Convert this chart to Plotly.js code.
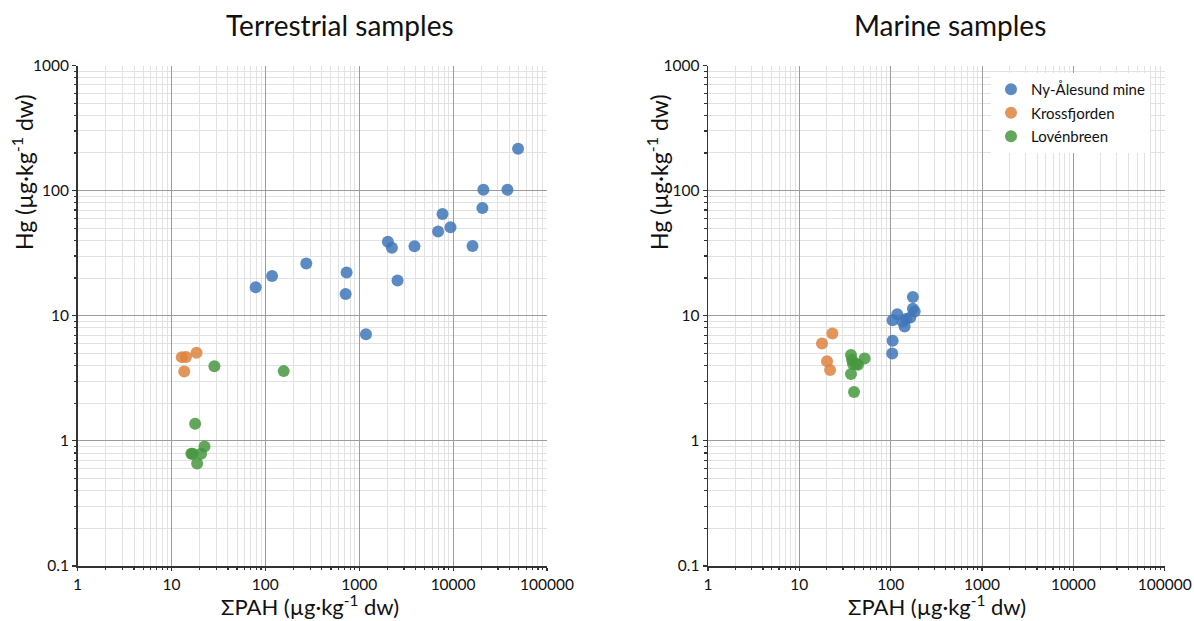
<!DOCTYPE html>
<html>
<head>
<meta charset="utf-8">
<script src="https://cdn.plot.ly/plotly-3.0.1.min.js"></script>
<style>html,body{margin:0;padding:0;background:#fff;}#chart{width:1194px;height:621px;}</style>
</head>
<body>
<div id="chart"></div>
<script>
// ---- Data ----
const seriesNames = ["Ny-Ålesund mine", "Krossfjorden", "Lovénbreen"];

// Terrestrial samples
const terrNyX = [79, 118, 273, 734, 717, 1180, 2020, 2230, 2560, 3880, 6920, 7710, 9380, 16100, 20500, 21000, 37900, 49200];
const terrNyY = [16.9, 20.8, 26.2, 22.2, 14.9, 7.1, 39.1, 35.0, 19.1, 35.9, 47.2, 65, 50.9, 36.1, 72.6, 101.6, 101.6, 216];
const terrKrX = [12.9, 14.3, 18.5, 13.7];
const terrKrY = [4.67, 4.69, 5.06, 3.59];
const terrLoX = [28.7, 157, 17.9, 22.5, 16.3, 16.8, 20.7, 18.8];
const terrLoY = [3.95, 3.61, 1.37, 0.90, 0.79, 0.79, 0.79, 0.66];

// Marine samples
const marNyX = [175, 175, 183, 118, 105, 135, 142, 164, 147, 105, 104];
const marNyY = [14.1, 11.4, 10.8, 10.3, 9.2, 9.0, 8.2, 9.7, 9.4, 6.3, 5.0];
const marKrX = [23.0, 17.7, 20.1, 21.7];
const marKrY = [7.2, 6.0, 4.33, 3.69];
const marLoX = [36.8, 37.8, 38.7, 43.9, 51.8, 36.8, 39.7, 41.8];
const marLoY = [4.86, 4.44, 4.12, 4.05, 4.56, 3.43, 2.46, 4.12];

// Tick labels
const xTickVals = [1, 10, 100, 1000, 10000, 100000];
const xTickText = ["1", "10", "100", "1000", "10000", "100000"];
const yTickVals = [0.1, 1, 10, 100, 1000];
const yTickText = ["0.1", "1", "10", "100", "1000"];

const panelTitles = ["Terrestrial samples", "Marine samples"];
const xTitle = "ΣPAH (µg·kg<sup>-1</sup> dw)";
const yTitle = "Hg (µg·kg<sup>-1</sup> dw)";

// ---- Styles ----
const colors = ["#3f77b9", "#dd843f", "#46983f"];
const FONT = "Lato, 'Open Sans', sans-serif";

function minorVals(lo, hi) {
  const v = [];
  for (let d = lo; d < hi; d++) for (let k = 2; k <= 9; k++) v.push(k * Math.pow(10, d));
  return v;
}

function mk(x, y, i, xa, ya, show) {
  return {
    type: "scatter", mode: "markers", x: x, y: y, name: seriesNames[i],
    xaxis: xa, yaxis: ya, showlegend: show, legendgroup: "g" + i,
    marker: { color: colors[i], size: 12, opacity: 0.85, line: { width: 0 } }
  };
}

const data = [
  mk(terrNyX, terrNyY, 0, "x", "y", false),
  mk(terrKrX, terrKrY, 1, "x", "y", false),
  mk(terrLoX, terrLoY, 2, "x", "y", false),
  mk(marNyX, marNyY, 0, "x2", "y2", true),
  mk(marKrX, marKrY, 1, "x2", "y2", true),
  mk(marLoX, marLoY, 2, "x2", "y2", true)
];

function xAxis(domain, anchor) {
  return {
    type: "log", range: [0, 5], domain: domain, anchor: anchor,
    tickmode: "array", tickvals: xTickVals, ticktext: xTickText,
    ticks: "outside", ticklen: 3.5, tickcolor: "#333", tickwidth: 1.2,
    showgrid: true, gridcolor: "#9c9c9c", gridwidth: 1,
    showline: true, linecolor: "#333", linewidth: 1.5,
    tickfont: { family: FONT, size: 15.5, color: "#111" },
    minor: { tickmode: "array", tickvals: minorVals(0, 5), ticks: "outside", ticklen: 2.5,
             tickcolor: "#333", showgrid: true, gridcolor: "#e2e2e2", gridwidth: 1 },
    fixedrange: true
  };
}
function yAxis(anchor) {
  return {
    type: "log", range: [-1, 3], domain: [1 - 566 / 621, 1 - 65.5 / 621], anchor: anchor,
    tickmode: "array", tickvals: yTickVals, ticktext: yTickText,
    ticks: "outside", ticklen: 4, tickcolor: "#333", tickwidth: 1.2,
    showgrid: true, gridcolor: "#9c9c9c", gridwidth: 1,
    showline: true, linecolor: "#333", linewidth: 1.5,
    tickfont: { family: FONT, size: 15.5, color: "#111" },
    minor: { tickmode: "array", tickvals: minorVals(-1, 3), ticks: "outside", ticklen: 2.5,
             tickcolor: "#333", showgrid: true, gridcolor: "#e2e2e2", gridwidth: 1 },
    fixedrange: true
  };
}

const W = 1194, H = 621;
function ann(text, px, py, size, angle) {
  return {
    text: text, xref: "paper", yref: "paper", x: px / W, y: 1 - py / H,
    xanchor: "center", yanchor: "middle", showarrow: false, borderpad: 0,
    textangle: angle || 0, font: { family: FONT, size: size, color: "#111" }
  };
}

const layout = {
  width: W, height: H,
  margin: { l: 0, r: 0, t: 0, b: 0 },
  paper_bgcolor: "#fff", plot_bgcolor: "#fff",
  xaxis: xAxis([77.5 / W, 547 / W], "y"),
  yaxis: yAxis("x"),
  xaxis2: xAxis([708 / W, 1164.7 / W], "y2"),
  yaxis2: yAxis("x2"),
  showlegend: true,
  legend: {
    x: 991 / W, y: 1 - 73 / H, xanchor: "left", yanchor: "top",
    bgcolor: "#fff", borderwidth: 0,
    font: { family: FONT, size: 15, color: "#111" },
    traceorder: "grouped", tracegroupgap: 1
  },
  annotations: [
    ann(panelTitles[0], 340, 25, 28),
    ann(panelTitles[1], 950, 25, 28),
    ann(xTitle, 310, 605.5, 22),
    ann(xTitle, 937, 605.5, 22),
    ann(yTitle, 22, 172, 23, -90),
    ann(yTitle, 657, 172, 23, -90)
  ]
};

Plotly.newPlot("chart", data, layout, { displayModeBar: false, staticPlot: true });
</script>
</body>
</html>
